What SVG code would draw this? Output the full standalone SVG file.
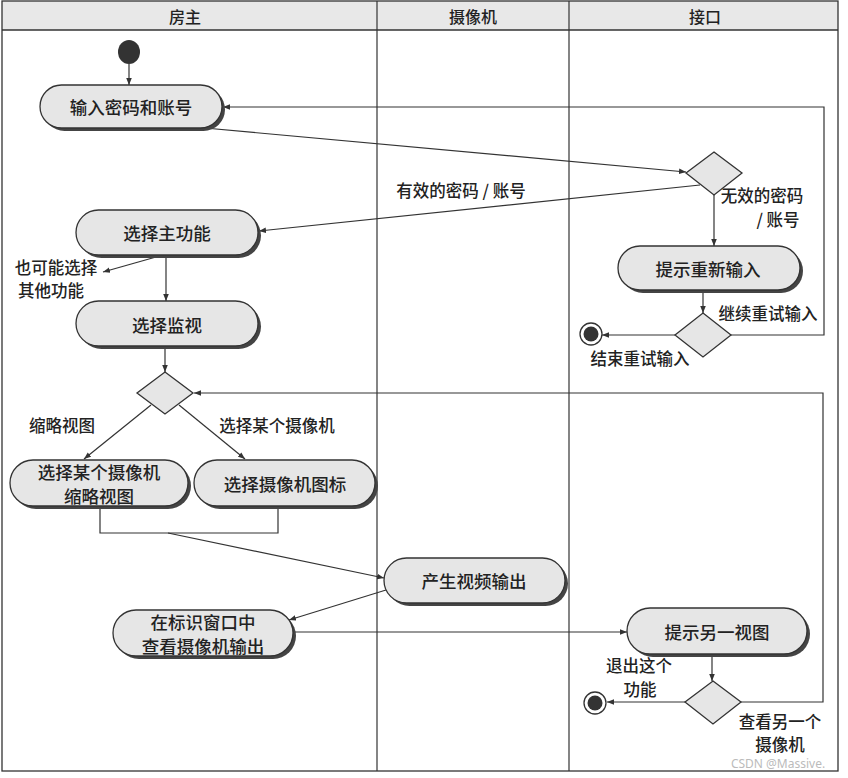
<svg xmlns="http://www.w3.org/2000/svg" width="848" height="778" viewBox="0 0 848 778">
<defs>
<marker id="ar" viewBox="0 0 10 10" refX="10" refY="5" markerWidth="7" markerHeight="7" orient="auto" markerUnits="userSpaceOnUse"><path d="M0,1 L10,5 L0,9 z" fill="#333"/></marker>
<style>
.t{font-family:"Noto Sans CJK SC","Noto Sans",sans-serif;fill:#222;text-anchor:middle;dominant-baseline:central;font-weight:500}
.n{font-size:17.5px}
.l{font-size:16.5px}
.h{font-size:16px}
.pill{fill:#e6e6e6;stroke:#333;stroke-width:1.3}
.sh{fill:#444}
.dia{fill:#e6e6e6;stroke:#333;stroke-width:1.3}
.c{fill:none;stroke:#333;stroke-width:1.2}
</style>
</defs>
<rect x="0" y="0" width="848" height="778" fill="#fff"/>
<g id="lanes">
<rect x="2" y="1" width="836" height="29" fill="#e8e8e8"/>
<rect x="2" y="1" width="836" height="770" fill="none" stroke="#333" stroke-width="1.3"/>
<line x1="2" y1="30" x2="838" y2="30" stroke="#333" stroke-width="1.5"/>
<line x1="377" y1="1" x2="377" y2="771" stroke="#333" stroke-width="1.2"/>
<line x1="569" y1="1" x2="569" y2="771" stroke="#333" stroke-width="1.2"/>
<text class="t h" x="185" y="16">房主</text>
<text class="t h" x="473" y="16">摄像机</text>
<text class="t h" x="705" y="16">接口</text>
</g>
<g id="connectors">
<line class="c" x1="129" y1="64" x2="129" y2="85" marker-end="url(#ar)"/>
<line class="c" x1="205" y1="128" x2="686" y2="172" marker-end="url(#ar)"/>
<line class="c" x1="700" y1="185" x2="259" y2="231" marker-end="url(#ar)"/>
<line class="c" x1="714" y1="195" x2="714" y2="246" marker-end="url(#ar)"/>
<line class="c" x1="703" y1="291" x2="703" y2="313" marker-end="url(#ar)"/>
<polyline class="c" points="731,335 824,335 824,107 223,107" marker-end="url(#ar)"/>
<line class="c" x1="675" y1="335" x2="602" y2="335" marker-end="url(#ar)"/>
<line class="c" x1="166" y1="256" x2="166" y2="301" marker-end="url(#ar)"/>
<line class="c" x1="156" y1="257" x2="103" y2="272" marker-end="url(#ar)"/>
<line class="c" x1="165" y1="347" x2="165" y2="372" marker-end="url(#ar)"/>
<line class="c" x1="151" y1="405" x2="84" y2="459" marker-end="url(#ar)"/>
<line class="c" x1="179" y1="405" x2="245" y2="459" marker-end="url(#ar)"/>
<polyline class="c" points="100,507 100,533 278,533 278,507"/>
<line class="c" x1="168" y1="533" x2="384" y2="578" marker-end="url(#ar)"/>
<line class="c" x1="386" y1="590" x2="289" y2="620" marker-end="url(#ar)"/>
<line class="c" x1="293" y1="632" x2="627" y2="632" marker-end="url(#ar)"/>
<line class="c" x1="712" y1="655" x2="712" y2="681" marker-end="url(#ar)"/>
<line class="c" x1="685" y1="702" x2="607" y2="702" marker-end="url(#ar)"/>
<polyline class="c" points="741,702 823,702 823,393 194,393" marker-end="url(#ar)"/>
</g>
<g id="labels">
<text class="t l" x="461" y="190">有效的密码 / 账号</text>
<text class="t l" x="762" y="195">无效的密码</text>
<text class="t l" x="778" y="219">/ 账号</text>
<text class="t l" x="768" y="313">继续重试输入</text>
<text class="t l" x="640" y="358">结束重试输入</text>
<text class="t l" x="56" y="267">也可能选择</text>
<text class="t l" x="51" y="290">其他功能</text>
<text class="t l" x="62" y="425">缩略视图</text>
<text class="t l" x="277" y="425">选择某个摄像机</text>
<text class="t l" x="639" y="665">退出这个</text>
<text class="t l" x="640" y="689">功能</text>
<text class="t l" x="780" y="721">查看另一个</text>
<text class="t l" x="780" y="744">摄像机</text>
<text x="778" y="763" font-family="Noto Sans, sans-serif" font-size="12" fill="#bbb" text-anchor="middle" dominant-baseline="central">CSDN @Massive.</text>
</g>
<g id="start"><ellipse cx="129" cy="52" rx="11" ry="12" fill="#333"/></g>
<g id="n1">
<rect class="sh" x="43" y="88" width="182" height="43" rx="21.5"/>
<rect class="pill" x="40" y="85" width="182" height="43" rx="21.5"/>
<text class="t n" x="131" y="106">输入密码和账号</text>
</g>
<g id="d1"><polygon class="dia" points="714,152 742,173 714,195 686,173"/></g>
<g id="n2">
<rect class="sh" x="621" y="249" width="182" height="44" rx="22"/>
<rect class="pill" x="618" y="246" width="182" height="44" rx="22"/>
<text class="t n" x="708" y="268">提示重新输入</text>
</g>
<g id="d2"><polygon class="dia" points="703,313 731,335 703,357 675,335"/></g>
<g id="end1"><circle cx="591" cy="334" r="11" fill="#fff" stroke="#333" stroke-width="1.3"/><circle cx="591" cy="334" r="7.5" fill="#333"/></g>
<g id="n3">
<rect class="sh" x="79" y="213" width="182" height="45" rx="22.5"/>
<rect class="pill" x="76" y="210" width="182" height="45" rx="22.5"/>
<text class="t n" x="167" y="232">选择主功能</text>
</g>
<g id="n4">
<rect class="sh" x="79" y="304" width="182" height="45" rx="22.5"/>
<rect class="pill" x="76" y="301" width="182" height="45" rx="22.5"/>
<text class="t n" x="167" y="324">选择监视</text>
</g>
<g id="d3"><polygon class="dia" points="165,372 193,393 165,414 137,393"/></g>
<g id="n5">
<rect class="sh" x="13" y="463" width="178" height="46" rx="23"/>
<rect class="pill" x="10" y="460" width="178" height="46" rx="23"/>
<text class="t n" x="99" y="471">选择某个摄像机</text>
<text class="t n" x="99" y="495">缩略视图</text>
</g>
<g id="n6">
<rect class="sh" x="197" y="463" width="181" height="46" rx="23"/>
<rect class="pill" x="194" y="460" width="181" height="46" rx="23"/>
<text class="t n" x="285" y="483">选择摄像机图标</text>
</g>
<g id="n7">
<rect class="sh" x="387" y="561" width="181" height="45" rx="22.5"/>
<rect class="pill" x="384" y="558" width="181" height="45" rx="22.5"/>
<text class="t n" x="474" y="580">产生视频输出</text>
</g>
<g id="n8">
<rect class="sh" x="116" y="613" width="180" height="46" rx="23"/>
<rect class="pill" x="113" y="610" width="180" height="46" rx="23"/>
<text class="t n" x="203" y="621">在标识窗口中</text>
<text class="t n" x="203" y="645">查看摄像机输出</text>
</g>
<g id="n9">
<rect class="sh" x="630" y="611" width="180" height="46" rx="23"/>
<rect class="pill" x="627" y="608" width="180" height="46" rx="23"/>
<text class="t n" x="717" y="631">提示另一视图</text>
</g>
<g id="d4"><polygon class="dia" points="713,681 741,702 713,724 685,702"/></g>
<g id="end2"><circle cx="595" cy="703" r="11" fill="#fff" stroke="#333" stroke-width="1.3"/><circle cx="595" cy="703" r="7.5" fill="#333"/></g>
</svg>
